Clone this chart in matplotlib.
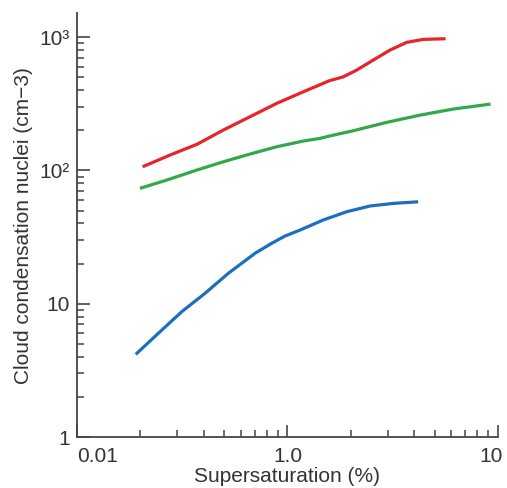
import numpy as np
import matplotlib
matplotlib.use("Agg")
import matplotlib.pyplot as plt
import matplotlib.transforms as mtransforms
from matplotlib.ticker import FixedLocator, FixedFormatter, LogLocator, NullFormatter

plt.rcParams['font.family'] = ['Liberation Sans', 'DejaVu Sans']

# (x axis runs 0.1..10, first tick is labelled "0.01" as in the source)
red_x = [0.205, 0.2766, 0.371, 0.4955, 0.6637, 0.8885, 1.189, 1.580, 1.841,
         2.132, 2.556, 3.069, 3.685, 4.417, 5.642]
red_y = [106.6, 130.5, 157, 201, 253, 318.7, 389, 471, 504,
         566, 673, 800, 914, 963, 973]

green_x = [0.199, 0.2668, 0.371, 0.4955, 0.6637, 0.8885, 1.189, 1.427, 1.580,
           2.054, 2.960, 4.262, 6.13, 9.23]
green_y = [73.4, 84.7, 100.7, 116.2, 132.8, 150.6, 166.2, 174, 181.2,
           198.6, 229.5, 260, 288.8, 314.9]

blue_x = [0.1901, 0.2433, 0.3144, 0.4056, 0.5234, 0.7008, 0.8413, 0.973, 1.147,
          1.480, 1.911, 2.466, 3.181, 4.18]
blue_y = [4.17, 6.0, 8.71, 11.97, 16.9, 23.9, 28.4, 32.2, 35.7,
          42.5, 49.0, 54.1, 56.6, 58.2]

xtick_pos = [0.1, 1.0, 10]
xtick_labels = ["0.01", "1.0", "10"]
ytick_pos = [1, 10, 100, 1000]
ytick_labels = ["1", "10", "10²", "10³"]

fig = plt.figure(figsize=(5.07, 4.88), dpi=100)
ax = fig.add_axes([0.152, 0.1045, 0.830, 0.8685])

for xs, ys, c in [(red_x, red_y, "#e8232b"), (green_x, green_y, "#33a84a"),
                  (blue_x, blue_y, "#1c6fbe")]:
    ax.plot(xs, ys, color=c, lw=2.3, solid_capstyle="butt", solid_joinstyle="round")

ax.set_xscale("log")
ax.set_yscale("log")
ax.set_xlim(0.1, 10)
ax.set_ylim(1, 1514)

ax.xaxis.set_major_locator(FixedLocator(xtick_pos))
ax.xaxis.set_major_formatter(FixedFormatter(xtick_labels))
ax.yaxis.set_major_locator(FixedLocator(ytick_pos))
ax.yaxis.set_major_formatter(FixedFormatter(ytick_labels))
for axis in (ax.xaxis, ax.yaxis):
    axis.set_minor_locator(LogLocator(base=10, subs=np.arange(2, 10)))
    axis.set_minor_formatter(NullFormatter())

for s in ("top", "right"):
    ax.spines[s].set_visible(False)
for s in ("left", "bottom"):
    ax.spines[s].set_color("#444444")
    ax.spines[s].set_linewidth(1.3)

ax.tick_params(which="major", direction="in", length=9, width=1.2, color="#444444",
               labelsize=15, labelcolor="#333333")
ax.tick_params(which="minor", direction="in", length=5, width=1.1, color="#444444")
ax.tick_params(axis="x", which="major", pad=7)
ax.tick_params(axis="y", which="major", pad=5)

# first x label sits to the right of its tick, last one nudged in, as in the source
xlabels = ax.get_xticklabels()
xlabels[0].set_horizontalalignment("left")
shift = mtransforms.ScaledTranslation(-5 / 72, 0, fig.dpi_scale_trans)
xlabels[-1].set_transform(xlabels[-1].get_transform() + shift)

ax.set_xlabel("Supersaturation (%)", fontsize=15, color="#333333", labelpad=1)
ax.set_ylabel("Cloud condensation nuclei (cm\u22123)", fontsize=15, color="#333333", labelpad=5)

fig.savefig("out.png", dpi=100)
